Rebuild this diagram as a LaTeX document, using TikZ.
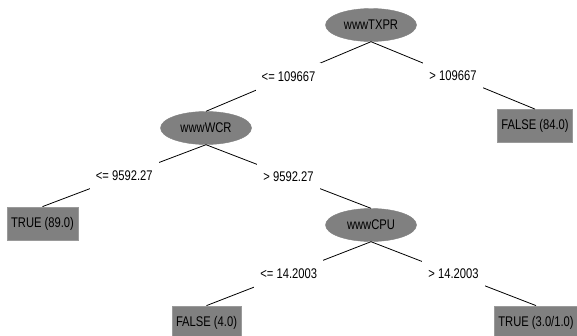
\documentclass[tikz,border=0pt]{standalone}
\usepackage{fontspec}
\setmainfont[FakeStretch=0.8]{Liberation Sans}
\usetikzlibrary{shapes.geometric}
\definecolor{nodegray}{HTML}{808080}
\definecolor{edgegray}{HTML}{9A9A9A}
\tikzset{
  every node/.style={font=\fontsize{14}{16}\selectfont, text=black},
  attr/.style={ellipse, fill=nodegray, draw=nodegray, minimum width=91pt, minimum height=33pt, inner sep=0pt},
  leaf/.style={rectangle, fill=nodegray, draw=edgegray, line width=0.8pt, minimum height=33pt, inner xsep=4pt, inner ysep=0pt},
  lbl/.style={fill=white, inner xsep=6pt, minimum height=28pt, inner ysep=0pt},
  edge/.style={draw=black, line width=0.8pt}
}
\begin{document}
\begin{tikzpicture}[x=1pt,y=-1pt]
\useasboundingbox (0,0) rectangle (577,335);
\fill[white] (0,0) rectangle (577,335);
\clip (0,0) rectangle (577,335);
% nodes
\node[attr] (root) at (371,25) {wwwTXPR};
\node[attr] (wcr) at (206,128) {wwwWCR};
\node[attr] (cpu) at (371,225) {wwwCPU};
\node[leaf] (f84) at (535,126) {FALSE (84.0)};
\node[leaf] (t89) at (42.5,223.5) {TRUE (89.0)};
\node[leaf] (f4) at (206.5,322.5) {FALSE (4.0)};
\node[leaf] (t3) at (536,322.5) {TRUE (3.0/1.0)};
% edges with their labels on a white ground at mid-way
\path[edge] (root.south) -- node[lbl] {<= 109667} (wcr.north);
\path[edge] (root.south) -- node[lbl] {> 109667} (f84.north);
\path[edge] (wcr.south) -- node[lbl] {<= 9592.27} (t89.north);
\path[edge] (wcr.south) -- node[lbl] {> 9592.27} (cpu.north);
\path[edge] (cpu.south) -- node[lbl] {<= 14.2003} (f4.north);
\path[edge] (cpu.south) -- node[lbl] {> 14.2003} (t3.north);
\end{tikzpicture}
\end{document}
